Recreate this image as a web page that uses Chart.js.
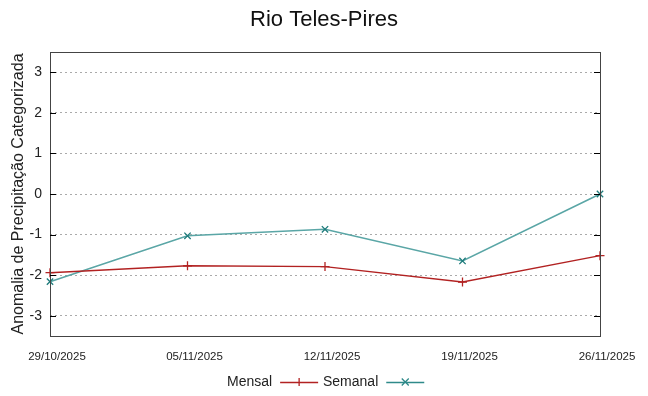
<!DOCTYPE html>
<html>
<head>
<meta charset="utf-8">
<script src="https://cdn.jsdelivr.net/npm/chart.js@4/dist/chart.umd.min.js"></script>
<style>
  html, body { margin: 0; padding: 0; background: #fff; }
  #wrap { width: 648px; height: 396px; }
</style>
</head>
<body>
<div id="wrap"><canvas id="chart" width="648" height="396"></canvas></div>
<script>
// datas e valores
const dates = ['29/10/2025', '05/11/2025', '12/11/2025', '19/11/2025', '26/11/2025'];
const mensal = [-1.94, -1.77, -1.79, -2.17, -1.52];
const semanal = [-2.16, -1.03, -0.87, -1.65, 0.0];
const yTicks = [-3, -2, -1, 0, 1, 2, 3];

const FONT = '"Liberation Sans", Arial, sans-serif';

// moldura, marcas e legenda no estilo gnuplot
const framePlugin = {
    id: 'frame',
    afterDraw(chart) {
        const { ctx, chartArea: a } = chart;
        const y = chart.scales.y;
        ctx.save();
        ctx.strokeStyle = '#444';
        ctx.lineWidth = 1;
        ctx.strokeRect(a.left + 0.5, a.top + 0.5, a.right - a.left, a.bottom - a.top);
        ctx.strokeStyle = '#000';
        yTicks.forEach(v => {
            const py = Math.round(y.getPixelForValue(v)) + 0.5;
            ctx.beginPath();
            ctx.moveTo(a.left, py); ctx.lineTo(a.left + 6, py);
            ctx.moveTo(a.right, py); ctx.lineTo(a.right - 6, py);
            ctx.stroke();
        });

        // legenda
        const ly = 382;
        ctx.font = '14px ' + FONT;
        ctx.textBaseline = 'middle';
        const items = [
            { label: 'Mensal', color: '#b22222', mark: 'plus', x: 227 },
            { label: 'Semanal', color: '#2f8a8a', mark: 'x', x: 323 }
        ];
        items.forEach(it => {
            ctx.fillStyle = '#222';
            ctx.textAlign = 'left';
            ctx.fillText(it.label, it.x, ly);
            const w = ctx.measureText(it.label).width;
            const x0 = it.x + w + 8, x1 = x0 + 38, xm = (x0 + x1) / 2;
            ctx.strokeStyle = it.color;
            ctx.lineWidth = 1.3;
            ctx.beginPath();
            ctx.moveTo(x0, ly + 0.5); ctx.lineTo(x1, ly + 0.5);
            if (it.mark === 'plus') {
                ctx.moveTo(xm, ly - 4); ctx.lineTo(xm, ly + 4);
            } else {
                ctx.moveTo(xm - 3.5, ly - 3.5); ctx.lineTo(xm + 3.5, ly + 3.5);
                ctx.moveTo(xm - 3.5, ly + 3.5); ctx.lineTo(xm + 3.5, ly - 3.5);
            }
            ctx.stroke();
        });
        ctx.restore();
    }
};

new Chart(document.getElementById('chart').getContext('2d'), {
    type: 'line',
    data: {
        labels: dates,
        datasets: [
            {
                label: 'Mensal',
                data: mensal,
                borderColor: '#b22222',
                borderWidth: 1.4,
                pointStyle: 'cross',
                pointRadius: 4.5,
                pointBorderColor: '#b22222',
                pointBorderWidth: 1.3,
                tension: 0
            },
            {
                label: 'Semanal',
                data: semanal,
                borderColor: '#5aa6a6',
                borderWidth: 1.6,
                pointStyle: 'crossRot',
                pointRadius: 4.5,
                pointBorderColor: '#1e7b7b',
                pointBorderWidth: 1.3,
                tension: 0
            }
        ]
    },
    options: {
        responsive: false,
        animation: false,
        layout: { padding: 0 },
        plugins: {
            legend: { display: false },
            tooltip: { enabled: false },
            title: {
                display: true,
                text: 'Rio Teles-Pires',
                color: '#111',
                font: { family: FONT, size: 22, weight: 'normal' },
                padding: { top: 7, bottom: 18.6 }
            }
        },
        scales: {
            x: {
                offset: false,
                grid: { display: false, drawTicks: false },
                border: { display: false },
                ticks: {
                    color: '#222',
                    font: { family: FONT, size: 11.5 },
                    padding: 14,
                    maxRotation: 0,
                    autoSkip: false,
                    labelOffset: 7
                },
                afterFit(s) { s.height = 60; }
            },
            y: {
                min: -3.5,
                max: 3.5,
                ticks: {
                    stepSize: 1,
                    color: '#222',
                    font: { family: FONT, size: 14 },
                    padding: 8
                },
                afterBuildTicks(s) {
                    s.ticks = yTicks.map(v => ({ value: v }));
                },
                grid: {
                    color: '#aaa',
                    lineWidth: 1,
                    drawTicks: false
                },
                border: { display: false, dash: [2, 3] },
                title: {
                    display: true,
                    text: 'Anomalia de Precipitação Categorizada',
                    color: '#222',
                    font: { family: FONT, size: 16 },
                    padding: { top: 9, bottom: 0 }
                },
                afterFit(s) { s.width = 50; }
            },
            // eixo vazio só para reservar a margem direita
            yr: {
                position: 'right',
                min: -3.5,
                max: 3.5,
                grid: { display: false, drawTicks: false },
                border: { display: false },
                ticks: { display: false },
                afterFit(s) { s.width = 48; }
            }
        }
    },
    plugins: [framePlugin]
});
</script>
</body>
</html>
